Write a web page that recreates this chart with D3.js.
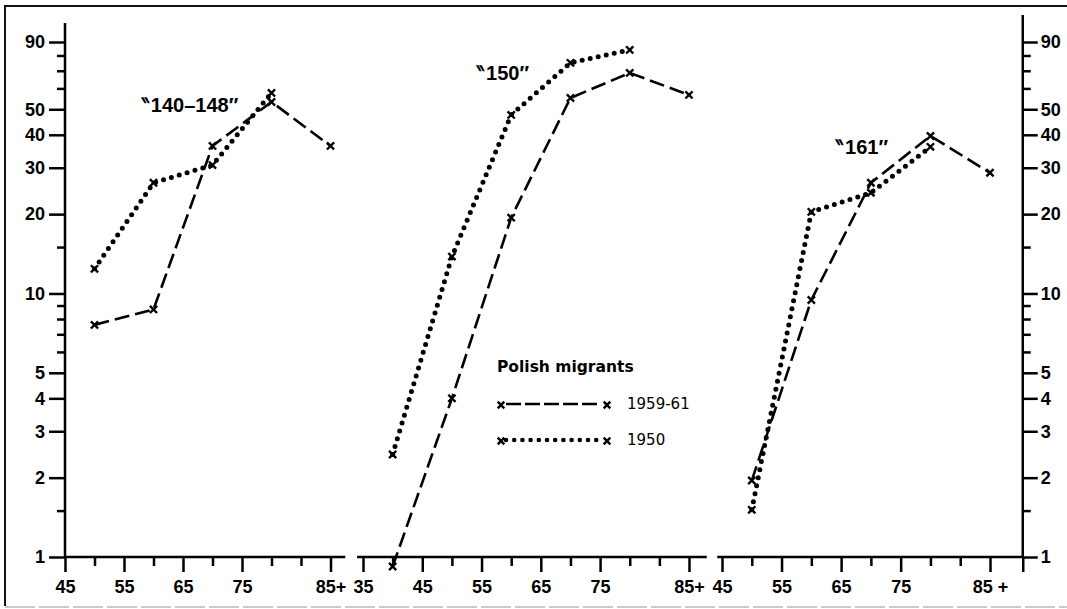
<!DOCTYPE html>
<html>
<head>
<meta charset="utf-8">
<script src="https://cdn.jsdelivr.net/npm/d3@7"></script>
<style>
body { margin: 0; background: #fff; }
.num { font-family: "Liberation Sans", Arial, sans-serif; font-weight: bold; font-size: 18px; fill: #000; }
.ttl { font-family: "Liberation Sans", Arial, sans-serif; font-weight: bold; font-size: 20px; fill: #000; }
.leg { font-family: "DejaVu Sans", sans-serif; font-size: 15px; fill: #000; }
</style>
</head>
<body>
<script>
// chart values
var titles = ["140\u2013148", "150", "161"];

var ages140 = [50, 60, 70, 80, 90];
var late140 = [7.6, 8.7, 36.3, 53.3, 36.3];     // 1959-61
var early140 = [12.4, 26.3, 30.7, 57.7];         // 1950

var ages150 = [40, 50, 60, 70, 80, 90];
var late150 = [0.92, 4.0, 19.4, 55.2, 68.7, 56.7];
var early150 = [2.45, 13.8, 47.6, 75, 84];

var ages161 = [50, 60, 70, 80, 90];
var late161 = [1.95, 9.45, 26.3, 39.6, 28.7];
var early161 = [1.51, 20.4, 24.1, 36];

var yMajor = [1, 2, 3, 4, 5, 10, 20, 30, 40, 50, 90];
var yMinor = [1.5, 6, 7, 8, 9, 15, 60, 70, 80];

var xMajor1 = [45, 55, 65, 75, 90], xLabels1 = ["45", "55", "65", "75", "85+"];
var xMajor2 = [35, 45, 55, 65, 75, 90], xLabels2 = ["35", "45", "55", "65", "75", "85+"];
var xMajor3 = [45, 55, 65, 75, 90, 95.5], xLabels3 = ["45", "55", "65", "75", "85 +", ""];
var xMinor1 = [50, 60, 70, 80, 85];
var xMinor2 = [40, 50, 60, 70, 80, 85];
var xMinor3 = [50, 60, 70, 80, 85];

var legendTitle = "Polish migrants";
var legendNames = ["1959-61", "1950"];

var svgWidth = 1067;
var svgHeight = 609;

var svg = d3.select("body")
    .append("svg")
    .attr("width", svgWidth)
    .attr("height", svgHeight);

// frame
svg.append("path")
    .attr("d", "M1070,6 H5 V606")
    .attr("fill", "none")
    .attr("stroke", "#111")
    .attr("stroke-width", 2);
svg.append("line")
    .attr("x1", 5).attr("x2", 1067).attr("y1", 607).attr("y2", 607)
    .attr("stroke", "#bbb").attr("stroke-width", 1.5)
    .attr("stroke-dasharray", "30,4");

var y = d3.scaleLog().domain([1, 90]).range([557, 42]);

var panels = [
    { title: titles[0], ages: ages140, late: late140, early: early140,
      x: d3.scaleLinear().domain([45, 90]).range([65, 330.5]),
      from: 45, to: 92.5, major: xMajor1, labels: xLabels1, minor: xMinor1,
      tx: 190, ty: 112 },
    { title: titles[1], ages: ages150, late: late150, early: early150,
      x: d3.scaleLinear().domain([35, 90]).range([363, 689]),
      from: 34, to: 93, major: xMajor2, labels: xLabels2, minor: xMinor2,
      tx: 503, ty: 80 },
    { title: titles[2], ages: ages161, late: late161, early: early161,
      x: d3.scaleLinear().domain([45, 90]).range([722, 990]),
      from: 44.2, to: 95.5, major: xMajor3, labels: xLabels3, minor: xMinor3,
      tx: 862, ty: 154 }
];

function styleAxis(g) {
    g.select(".domain").remove();
    g.selectAll(".tick line").attr("stroke", "#000").attr("stroke-width", 2.5);
    g.selectAll(".tick text").attr("class", "num").attr("fill", "#000");
}

function cross(g, px, py, s) {
    g.append("path")
        .attr("d", `M${px - s},${py - s}L${px + s},${py + s}M${px - s},${py + s}L${px + s},${py - s}`)
        .attr("stroke", "#000")
        .attr("stroke-width", 2.4)
        .attr("fill", "none");
}

panels.forEach(function (p) {
    var g = svg.append("g");

    // x axis line
    g.append("line")
        .attr("x1", p.x(p.from)).attr("x2", p.x(p.to))
        .attr("y1", y(1)).attr("y2", y(1))
        .attr("stroke", "#000").attr("stroke-width", 2.5);

    var majorAxis = d3.axisBottom(p.x)
        .tickValues(p.major)
        .tickFormat((d, i) => p.labels[i])
        .tickSize(15)
        .tickPadding(8);
    g.append("g")
        .attr("transform", `translate(0, ${y(1)})`)
        .call(majorAxis)
        .call(styleAxis);

    var minorAxis = d3.axisBottom(p.x)
        .tickValues(p.minor)
        .tickFormat("")
        .tickSize(9);
    g.append("g")
        .attr("transform", `translate(0, ${y(1)})`)
        .call(minorAxis)
        .call(styleAxis);

    // lines
    var lateData = p.ages.map((a, i) => [a, p.late[i]]);
    var earlyData = p.early.map((v, i) => [p.ages[i], v]);
    var line = d3.line().x(d => p.x(d[0])).y(d => y(d[1]));

    g.append("path")
        .datum(earlyData)
        .attr("d", line)
        .attr("fill", "none")
        .attr("stroke", "#000")
        .attr("stroke-width", 5)
        .attr("stroke-linecap", "round")
        .attr("stroke-dasharray", "0,8.2");

    g.append("path")
        .datum(lateData)
        .attr("d", line)
        .attr("fill", "none")
        .attr("stroke", "#000")
        .attr("stroke-width", 2.6)
        .attr("stroke-dasharray", "15,6");

    lateData.forEach(d => cross(g, p.x(d[0]), y(d[1]), 3.6));
    earlyData.forEach(d => cross(g, p.x(d[0]), y(d[1]), 3.6));

    g.append("text")
        .attr("class", "ttl")
        .attr("x", p.tx)
        .attr("y", p.ty)
        .attr("text-anchor", "middle")
        .text("\u2036" + p.title + "\u2033");
});

// left y axis
var leftX = 65;
svg.append("line")
    .attr("x1", leftX).attr("x2", leftX).attr("y1", 23).attr("y2", y(1))
    .attr("stroke", "#000").attr("stroke-width", 2.5);
svg.append("g")
    .attr("transform", `translate(${leftX},0)`)
    .call(d3.axisLeft(y).tickValues(yMajor).tickFormat(d3.format("d")).tickSize(16).tickPadding(4))
    .call(styleAxis);
svg.append("g")
    .attr("transform", `translate(${leftX},0)`)
    .call(d3.axisLeft(y).tickValues(yMinor).tickFormat("").tickSize(8))
    .call(styleAxis);

// right y axis
var rightX = panels[2].x(95.5);
svg.append("line")
    .attr("x1", rightX).attr("x2", rightX).attr("y1", 15).attr("y2", y(1))
    .attr("stroke", "#000").attr("stroke-width", 2.5);
svg.append("g")
    .attr("transform", `translate(${rightX},0)`)
    .call(d3.axisRight(y).tickValues(yMajor).tickFormat(d3.format("d")).tickSize(15).tickPadding(3))
    .call(styleAxis);
svg.append("g")
    .attr("transform", `translate(${rightX},0)`)
    .call(d3.axisRight(y).tickValues(yMinor).tickFormat("").tickSize(8))
    .call(styleAxis);

// legend
var legend = svg.append("g").attr("transform", "translate(497, 0)");
legend.append("text")
    .attr("class", "leg")
    .attr("x", 0).attr("y", 372)
    .style("font-weight", "bold")
    .style("font-size", "15.5px")
    .text(legendTitle);

var legendRows = [404, 440];
legendNames.forEach(function (name, i) {
    var ly = legendRows[i];
    legend.append("line")
        .attr("x1", 9).attr("x2", 104).attr("y1", ly).attr("y2", ly)
        .attr("stroke", "#000")
        .attr("stroke-width", i === 0 ? 2.5 : 4.6)
        .attr("stroke-linecap", i === 0 ? "butt" : "round")
        .attr("stroke-dasharray", i === 0 ? "15,4" : "0,8.2");
    cross(legend, 4, ly + 1, 3.3);
    cross(legend, 110, ly + 1, 3.3);
    legend.append("text")
        .attr("class", "leg")
        .attr("x", 130).attr("y", ly + 5)
        .text(name);
});
</script>
</body>
</html>
